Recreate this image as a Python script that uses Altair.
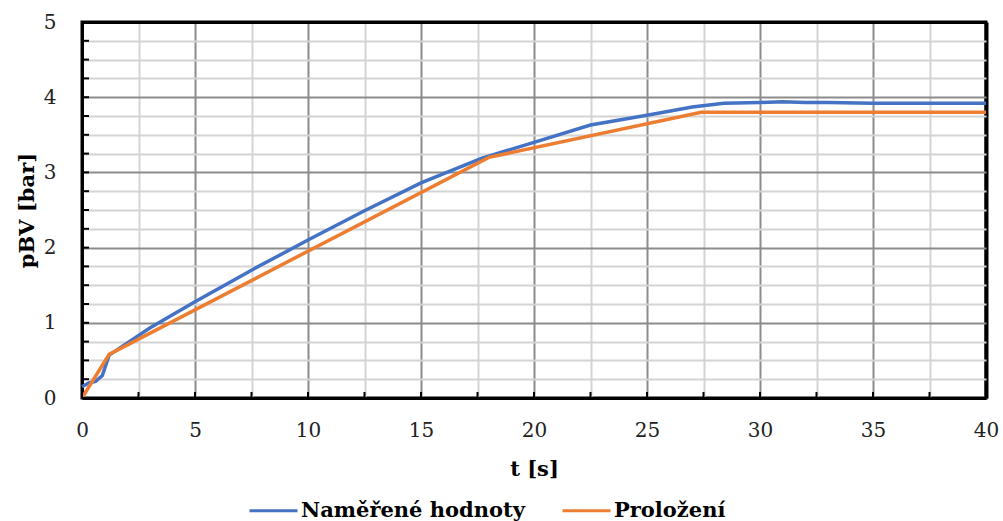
import altair as alt
import pandas as pd

# Measured values (Naměřené hodnoty)
blue_t = [0, 0.3, 0.6, 0.9, 1.2, 1.5, 3, 5, 7.5, 10, 12.5, 15, 17.7, 20, 22.5, 25, 27, 28.4, 30, 31, 32, 33, 35, 40]
blue_p = [0.15, 0.2, 0.22, 0.3, 0.57, 0.63, 0.93, 1.28, 1.70, 2.10, 2.49, 2.86, 3.19, 3.40, 3.63, 3.76, 3.87, 3.92, 3.93, 3.94, 3.93, 3.93, 3.92, 3.92]
# Fit (Proložení)
orange_t = [0, 1.2, 18, 27.4, 40]
orange_p = [0, 0.58, 3.2, 3.8, 3.8]

series_names = ["Naměřené hodnoty", "Proložení"]
series_colors = ["#4472C4", "#ED7D31"]

x_ticks = [i * 2.5 for i in range(17)]
y_ticks = [i * 0.25 for i in range(21)]

W, H = 904, 376

df = pd.concat([
    pd.DataFrame({"t": blue_t, "p": blue_p, "s": series_names[0]}),
    pd.DataFrame({"t": orange_t, "p": orange_p, "s": series_names[1]}),
])

xscale = alt.Scale(domain=[0, 40], nice=False, zero=False)
yscale = alt.Scale(domain=[0, 5], nice=False, zero=False)

font = "DejaVu Serif"

x_axis = alt.Axis(
    values=x_ticks,
    labelExpr="datum.value % 5 === 0 ? format(datum.value, 'd') : ''",
    labelFlush=False, labelOverlap=False,
    grid=True,
    gridColor={"condition": [{"test": "datum.value === 40", "value": "black"},
                             {"test": "datum.value % 5 === 0", "value": "#8c8c8c"}],
               "value": "#d4d4d4"},
    gridWidth={"condition": {"test": "datum.value === 40", "value": 4}, "value": 2},
    ticks=False, tickSize=0,
    domainColor="black", domainWidth=3,
    labelFont=font, labelFontSize=20, labelColor="#222",
    labelPadding=22,
    title="t [s]", titleFont=font, titleFontSize=21, titleFontWeight="bold",
    titleColor="black", titlePadding=18,
)
y_axis = alt.Axis(
    values=y_ticks,
    labelExpr="datum.value % 1 === 0 ? format(datum.value, 'd') : ''",
    labelFlush=False, labelOverlap=False,
    grid=True,
    gridColor={"condition": [{"test": "datum.value === 5", "value": "black"},
                             {"test": "datum.value % 1 === 0", "value": "#8c8c8c"}],
               "value": "#d4d4d4"},
    gridWidth={"condition": {"test": "datum.value === 5", "value": 3}, "value": 2},
    ticks=False, tickSize=0,
    domainColor="black", domainWidth=3,
    labelFont=font, labelFontSize=20, labelColor="#222",
    labelPadding=26,
    title="pBV [bar]", titleFont=font, titleFontSize=21, titleFontWeight="bold",
    titleColor="black", titlePadding=6,
)

lines = alt.Chart(df).mark_line(strokeWidth=3.5).encode(
    x=alt.X("t:Q", scale=xscale, axis=x_axis),
    y=alt.Y("p:Q", scale=yscale, axis=y_axis),
    color=alt.Color(
        "s:N",
        scale=alt.Scale(domain=series_names, range=series_colors),
        legend=alt.Legend(
            title=None, orient="none", direction="horizontal",
            legendX=166, legendY=463,
            symbolType="stroke", symbolSize=2304, symbolStrokeWidth=3,
            labelFont=font, labelFontSize=21, labelFontWeight="bold", labelColor="black",
            labelOffset=2, columnPadding=31, padding=0, labelLimit=400,
        ),
    ),
    order=alt.Order("t:Q"),
)

ytick_df = pd.DataFrame({"t": [0] * len(y_ticks), "p": y_ticks})
xtick_df = pd.DataFrame({"t": x_ticks, "p": [0] * len(x_ticks)})

yticks = alt.Chart(ytick_df).mark_rule(color="black", strokeWidth=2).encode(
    y=alt.Y("p:Q", scale=yscale, axis=y_axis),
    x=alt.value(0), x2=alt.value(7),
)
xticks = alt.Chart(xtick_df).mark_rule(color="black", strokeWidth=2).encode(
    x=alt.X("t:Q", scale=xscale, axis=x_axis),
    y=alt.value(H), y2=alt.value(H - 6),
)

chart = alt.layer(lines, yticks, xticks).properties(
    width=W, height=H,
    autosize=alt.AutoSizeParams(type="none"),
    padding={"left": 82, "top": 22, "right": 17, "bottom": 123},
    background="white",
).configure_view(
    stroke="black", strokeWidth=3
)

chart.save("out.html", embed_options={"renderer": "svg", "actions": False})
